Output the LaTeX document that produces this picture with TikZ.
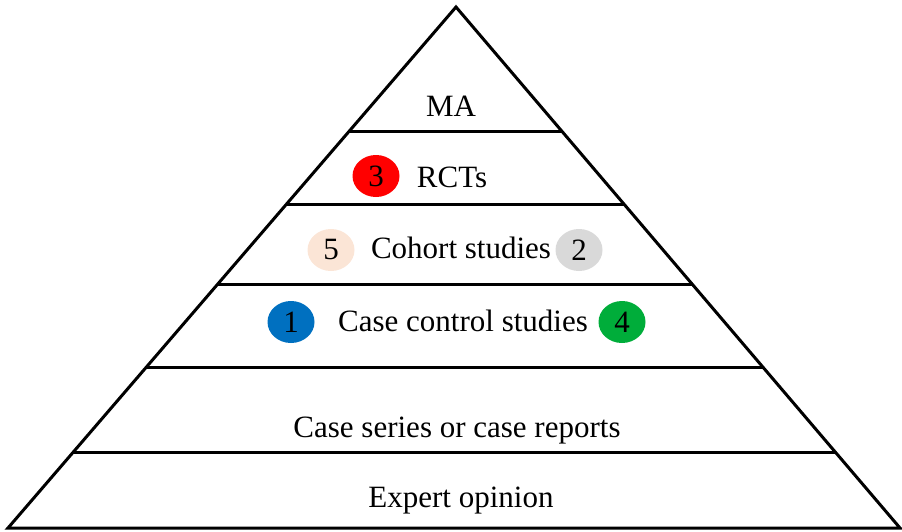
\documentclass[tikz,border=0pt]{standalone}
\usepackage{fontspec}
\setmainfont{Liberation Serif}
\usetikzlibrary{positioning, shapes.geometric, calc}

\definecolor{badgered}{HTML}{FF0000}
\definecolor{badgepeach}{HTML}{FBE5D6}
\definecolor{badgegray}{HTML}{D9D9D9}
\definecolor{badgeblue}{HTML}{0070C0}
\definecolor{badgegreen}{HTML}{00AD3A}

\tikzset{
    tier/.style={anchor=base, inner sep=0pt, font=\fontsize{31}{36}\selectfont},
    badge/.style={ellipse, draw=none, inner sep=0pt, minimum width=47pt, minimum height=42pt, font=\fontsize{31}{36}\selectfont}
}

\begin{document}
\begin{tikzpicture}[x=1pt, y=-1pt, line width=3pt]
        \useasboundingbox (0,0) rectangle (902,532);

        \coordinate (apex) at (456,7);
        \coordinate (base left) at (8,528);
        \coordinate (base right) at (900,528);

        \draw[line join=miter] (apex) -- (base left) -- (base right) -- cycle;

        % levels of the pyramid
        \foreach \y in {132,205,285,368,453}
        \draw ($(apex)!{(\y-7)/521}!(base left)$) -- ($(apex)!{(\y-7)/521}!(base right)$);

        \node[tier] (level 1) at (451,117) {MA};
        \node[tier] (level 2) at (452,187) {RCTs};
        \node[tier] (level 3) at (461,258) {Cohort studies};
        \node[tier] (level 4) at (463,331) {Case control studies};
        \node[tier] (level 5) at (457,437) {Case series or case reports};
        \node[tier] (level 6) at (461,507) {Expert opinion};

        \node[badge, fill=badgered] (badge 3) at (376,176) {3};
        \node[badge, fill=badgepeach] (badge 5) at (331,250) {5};
        \node[badge, fill=badgegray] (badge 2) at (579,250) {2};
        \node[badge, fill=badgeblue] (badge 1) at (291,322) {1};
        \node[badge, fill=badgegreen] (badge 4) at (622,322) {4};

    \end{tikzpicture}
\end{document}
